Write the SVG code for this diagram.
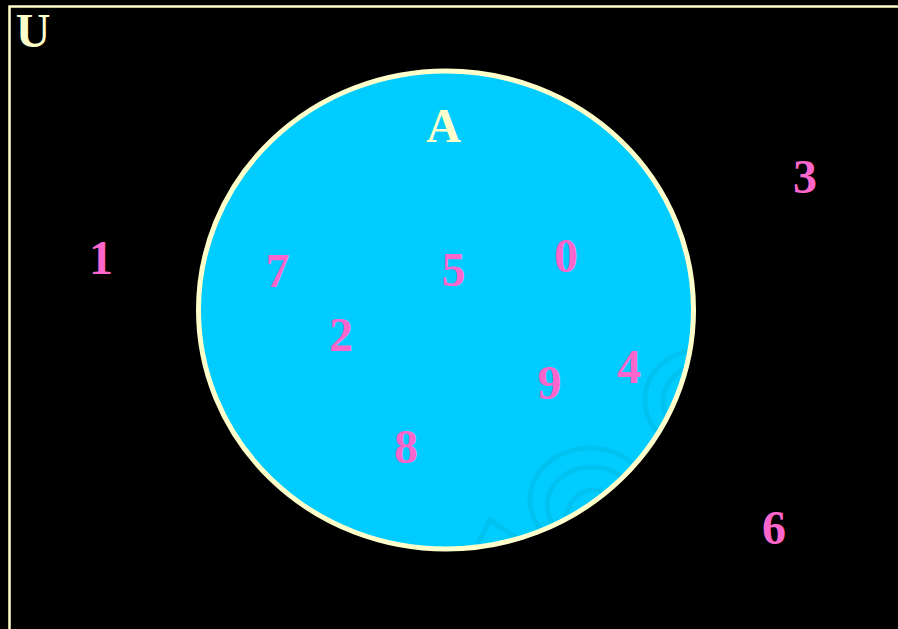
<svg xmlns="http://www.w3.org/2000/svg" width="898" height="629" viewBox="0 0 898 629">
<defs>
<style>
.num{font-family:"Liberation Serif","Times New Roman",serif;font-weight:bold;font-size:48px;fill:#FF66CC;text-anchor:middle}
.lbl{font-family:"Liberation Serif","Times New Roman",serif;font-weight:bold;font-size:48px;fill:#FFFFCC;text-anchor:middle}
.swirl{fill:none;stroke:#00BDEB;stroke-width:5;opacity:0.7}
</style>
<clipPath id="clipA"><ellipse cx="446" cy="310" rx="247.5" ry="239"/></clipPath>
</defs>
<rect x="0" y="0" width="898" height="629" fill="#000000"/>
<g id="U">
<rect x="9.5" y="6.5" width="900" height="640" fill="none" stroke="#FFFFCC" stroke-width="2.5"/>
<text class="lbl" x="33" y="47">U</text>
</g>
<g id="A">
<ellipse cx="446" cy="310" rx="247.5" ry="239" fill="#00CCFF"/>
<g clip-path="url(#clipA)">
<ellipse class="swirl" cx="590" cy="500" rx="60" ry="52"/>
<ellipse class="swirl" cx="592" cy="505" rx="45" ry="38"/>
<path class="swirl" d="M565,540 C560,500 585,480 610,495"/>
<ellipse class="swirl" cx="700" cy="400" rx="55" ry="50"/>
<ellipse class="swirl" cx="705" cy="402" rx="42" ry="38"/>
<path class="swirl" d="M470,560 L490,520 L520,540"/>
</g>
<ellipse cx="446" cy="310" rx="247.5" ry="239" fill="none" stroke="#FFFFCC" stroke-width="5"/>
<text class="lbl" x="443.5" y="142">A</text>
</g>
<g id="elements">
<text class="num" x="101" y="274">1</text>
<text class="num" x="277.5" y="287">7</text>
<text class="num" x="341" y="351">2</text>
<text class="num" x="453.5" y="286">5</text>
<text class="num" x="566" y="272">0</text>
<text class="num" x="406" y="463">8</text>
<text class="num" x="549.5" y="399">9</text>
<text class="num" x="629" y="383">4</text>
<text class="num" x="805" y="193">3</text>
<text class="num" x="774" y="544">6</text>
</g>
</svg>
